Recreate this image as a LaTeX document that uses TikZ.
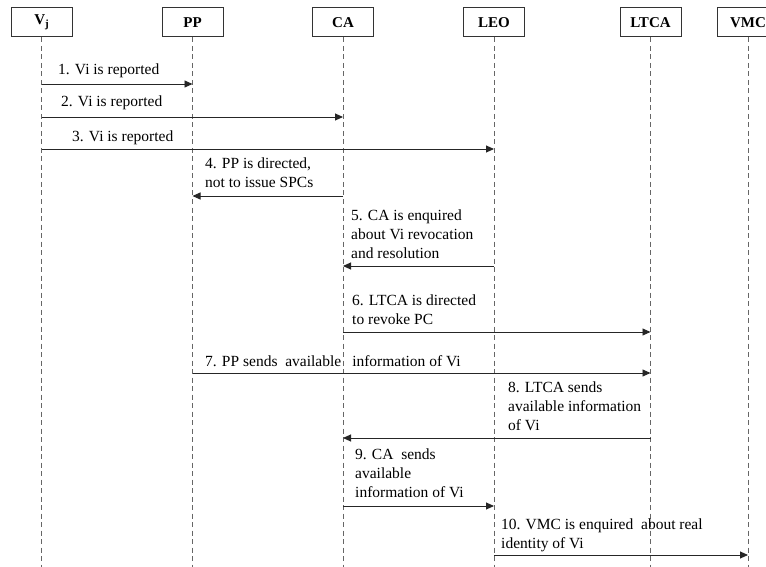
\documentclass[tikz,border=0pt]{standalone}
\usepackage{fontspec}
\setmainfont{Liberation Serif}
\usetikzlibrary{arrows.meta}
\begin{document}
\begin{tikzpicture}[x=1pt,y=-1pt,
  actor/.style={draw=black!80, line width=1pt, minimum width=61pt, minimum height=29pt, inner sep=0pt, font=\fontsize{15}{18}\selectfont\bfseries},
  life/.style={draw=black!60, line width=0.8pt, dash pattern=on 5pt off 3.5pt},
  msg/.style={draw=black!85, line width=0.9pt, -{Triangle[length=8pt,width=7pt]}},
  lbl/.style={anchor=base west, align=left, inner sep=0pt, font=\fontsize{15.5}{18.7}\selectfont}]
\useasboundingbox (0,0) rectangle (766,567);
\clip (0,0) rectangle (766,567);
% actors
\node[actor] (vj) at (41.5,22.5) {V\raisebox{-2.5pt}{\fontsize{11}{11}\selectfont j}};
\node[actor] (pp) at (192.5,22.5) {PP};
\node[actor] (ca) at (343,22.5) {CA};
\node[actor] (leo) at (494,22.5) {LEO};
\node[actor] (ltca) at (650.5,22.5) {LTCA};
\node[actor] (vmc) at (748,22.5) {VMC};
% lifeline ends
\coordinate (vjE) at (vj |- 0,567);
\coordinate (ppE) at (pp |- 0,567);
\coordinate (caE) at (ca |- 0,567);
\coordinate (leoE) at (leo |- 0,567);
\coordinate (ltcaE) at (ltca |- 0,567);
\coordinate (vmcE) at (vmc |- 0,567);
\draw[life] (vj) -- (vjE);
\draw[life] (pp) -- (ppE);
\draw[life] (ca) -- (caE);
\draw[life] (leo) -- (leoE);
\draw[life] (ltca) -- (ltcaE);
\draw[life] (vmc) -- (vmcE);
% redraw boxes on top
\node[actor, fill=white] at (vj) {V\raisebox{-2.5pt}{\fontsize{11}{11}\selectfont j}};
\node[actor, fill=white] at (pp) {PP};
\node[actor, fill=white] at (ca) {CA};
\node[actor, fill=white] at (leo) {LEO};
\node[actor, fill=white] at (ltca) {LTCA};
\node[actor, fill=white] at (vmc) {VMC};
% messages
\draw[msg] (vj |- 0,84) -- (pp |- 0,84);
\node[lbl] (l1) at (58,75) {1. Vi is reported};
\draw[msg] (vj |- 0,117) -- (ca |- 0,117);
\node[lbl] (l2) at (61,107) {2. Vi is reported};
\draw[msg] (vj |- 0,149) -- (leo |- 0,149);
\node[lbl] (l3) at (72,142) {3. Vi is reported};
\draw[msg] (ca |- 0,196) -- (pp |- 0,196);
\node[lbl] (l4) at (205,187) {4. PP is directed,\\not to issue SPCs};
\draw[msg] (leo |- 0,266) -- (ca |- 0,266);
\node[lbl] (l5) at (351,258) {5. CA is enquired\\about Vi revocation\\and resolution};
\draw[msg] (ca |- 0,332) -- (ltca |- 0,332);
\node[lbl] (l6) at (352,324) {6. LTCA is directed\\to revoke PC};
\draw[msg] (pp |- 0,373) -- (ltca |- 0,373);
\node[lbl] (l7) at (205,366) {7. PP sends\ \ available\hspace{11pt}information of Vi};
\draw[msg] (ltca |- 0,438) -- (ca |- 0,438);
\node[lbl] (l8) at (508,430) {8. LTCA sends\\available information\\of Vi};
\draw[msg] (ca |- 0,506) -- (leo |- 0,506);
\node[lbl] (l9) at (355,497) {9. CA\ \ sends\\available\\information of Vi};
\draw[msg] (leo |- 0,555) -- (vmc |- 0,555);
\node[lbl] (l10) at (501,548) {10. VMC is enquired\ \ about real\\identity of Vi};
\end{tikzpicture}
\end{document}
